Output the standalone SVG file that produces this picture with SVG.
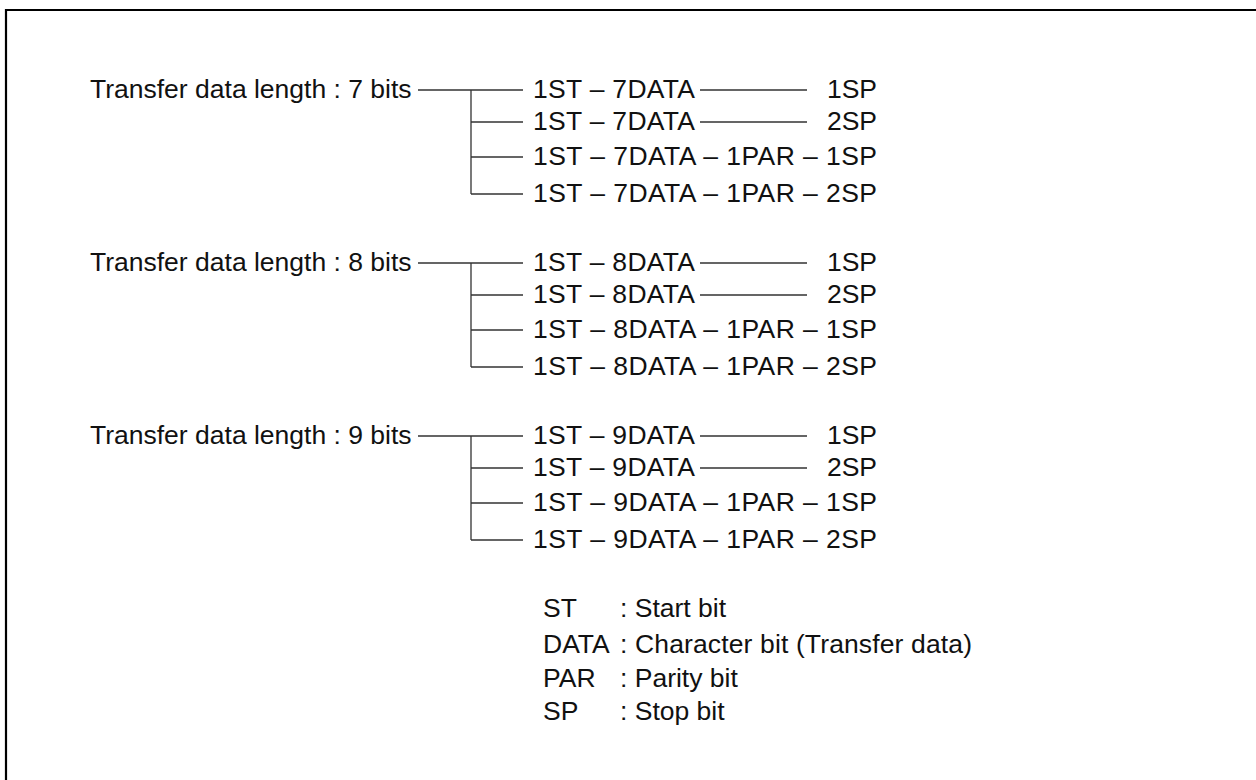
<svg xmlns="http://www.w3.org/2000/svg" width="1256" height="780" viewBox="0 0 1256 780">
<style>
text{font-family:"Liberation Sans",Arial,sans-serif;font-size:26.5px;fill:#111}
.c{stroke:#333;stroke-width:1.3;fill:none}
.b{stroke:#000;stroke-width:2.2;fill:none}
</style>
<rect width="1256" height="780" fill="#fff"/>
<path class="b" d="M6,780 V10 H1256"/>
<g id="connectors">
<path class="c" d="M418,90 H523 M471,90 V194 M471,122 H523 M471,157 H523 M471,194 H523 M700,90 H807 M700,122 H807"/>
<path class="c" d="M418,263 H523 M471,263 V367 M471,295 H523 M471,330 H523 M471,367 H523 M700,263 H807 M700,295 H807"/>
<path class="c" d="M418,436 H523 M471,436 V540 M471,468 H523 M471,503 H523 M471,540 H523 M700,436 H807 M700,468 H807"/>
</g>
<g id="group7">
<text x="90" y="98">Transfer data length : 7 bits</text>
<text x="533" y="98" textLength="162" lengthAdjust="spacing">1ST – 7DATA</text><text x="877" y="98" text-anchor="end">1SP</text>
<text x="533" y="130" textLength="162" lengthAdjust="spacing">1ST – 7DATA</text><text x="877" y="130" text-anchor="end">2SP</text>
<text x="533" y="165" textLength="344" lengthAdjust="spacing">1ST – 7DATA – 1PAR – 1SP</text>
<text x="533" y="202" textLength="344" lengthAdjust="spacing">1ST – 7DATA – 1PAR – 2SP</text>
</g>
<g id="group8">
<text x="90" y="271">Transfer data length : 8 bits</text>
<text x="533" y="271" textLength="162" lengthAdjust="spacing">1ST – 8DATA</text><text x="877" y="271" text-anchor="end">1SP</text>
<text x="533" y="303" textLength="162" lengthAdjust="spacing">1ST – 8DATA</text><text x="877" y="303" text-anchor="end">2SP</text>
<text x="533" y="338" textLength="344" lengthAdjust="spacing">1ST – 8DATA – 1PAR – 1SP</text>
<text x="533" y="375" textLength="344" lengthAdjust="spacing">1ST – 8DATA – 1PAR – 2SP</text>
</g>
<g id="group9">
<text x="90" y="444">Transfer data length : 9 bits</text>
<text x="533" y="444" textLength="162" lengthAdjust="spacing">1ST – 9DATA</text><text x="877" y="444" text-anchor="end">1SP</text>
<text x="533" y="476" textLength="162" lengthAdjust="spacing">1ST – 9DATA</text><text x="877" y="476" text-anchor="end">2SP</text>
<text x="533" y="511" textLength="344" lengthAdjust="spacing">1ST – 9DATA – 1PAR – 1SP</text>
<text x="533" y="548" textLength="344" lengthAdjust="spacing">1ST – 9DATA – 1PAR – 2SP</text>
</g>
<g id="legend">
<text x="543" y="617">ST</text><text x="620" y="617">: Start bit</text>
<text x="543" y="653">DATA</text><text x="620" y="653" textLength="352" lengthAdjust="spacing">: Character bit (Transfer data)</text>
<text x="543" y="687">PAR</text><text x="620" y="687">: Parity bit</text>
<text x="543" y="720">SP</text><text x="620" y="720">: Stop bit</text>
</g>
</svg>
